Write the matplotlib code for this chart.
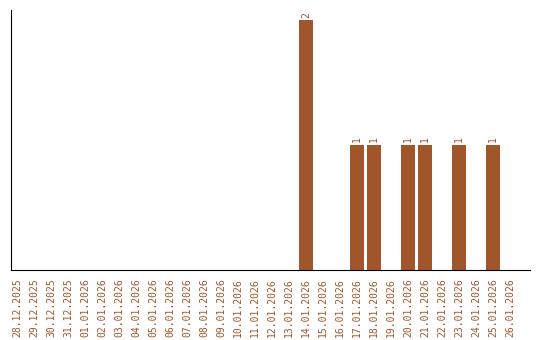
import matplotlib
matplotlib.use('Agg')
import matplotlib.pyplot as plt
import numpy as np

dates = ['28.12.2025', '29.12.2025', '30.12.2025', '31.12.2025',
	'01.01.2026', '02.01.2026', '03.01.2026', '04.01.2026', '05.01.2026',
	'06.01.2026', '07.01.2026', '08.01.2026', '09.01.2026', '10.01.2026',
	'11.01.2026', '12.01.2026', '13.01.2026', '14.01.2026', '15.01.2026',
	'16.01.2026', '17.01.2026', '18.01.2026', '19.01.2026', '20.01.2026',
	'21.01.2026', '22.01.2026', '23.01.2026', '24.01.2026', '25.01.2026',
	'26.01.2026']
counts = [0, 0, 0, 0, 0, 0, 0, 0, 0, 0, 0, 0, 0, 0, 0, 0, 0,
	2, 0, 0, 1, 1, 0, 1, 1, 0, 1, 0, 1, 0]

col = '#A0562A'

fig = plt.figure(figsize=(5.4, 3.4), dpi=100)
ax = fig.add_axes([11/540, 1 - 270/340, 519/540, 260/340])

x = np.arange(len(dates))
ax.bar(x, counts, width=0.82, color=col)
for i, v in enumerate(counts):
	if v > 0:
		ax.text(i, v + 0.02, str(v), rotation=90, ha='center', va='bottom',
			color=col, fontsize=7, family='DejaVu Sans Mono')

ax.set_xlim(-0.35, 30.17)
ax.set_ylim(0, 2.08)
ax.set_xticks(x)
ax.set_xticklabels(dates, rotation=90, color=col, fontsize=7, family='DejaVu Sans Mono')
ax.tick_params(axis='x', length=0, pad=6)
ax.set_yticks([])
ax.spines['top'].set_visible(False)
ax.spines['right'].set_visible(False)

fig.savefig('out.png', dpi=100)
